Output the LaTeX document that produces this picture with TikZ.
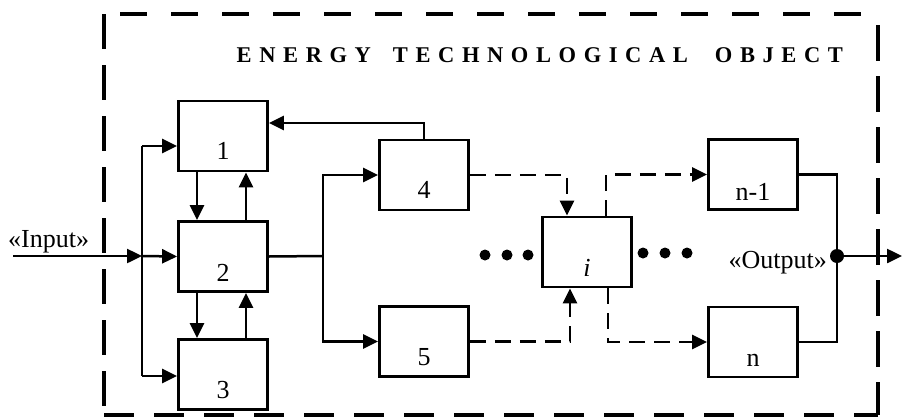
\documentclass[tikz,border=0pt]{standalone}
\usepackage{fontspec}
\setmainfont{Liberation Serif}
\usetikzlibrary{arrows.meta}
\newcommand\lk{\kern 7.6pt}
\begin{document}
\begin{tikzpicture}[x=1pt,y=-1pt,
  blk/.style={draw, line width=2.8pt, minimum width=89pt, minimum height=70pt, inner sep=0pt},
  lbl/.style={anchor=base, inner sep=0pt, font=\fontsize{26}{26}\selectfont},
  con/.style={line width=2.5pt},
  arr/.style={con, -{Triangle[length=15pt,width=14pt]}},
  dsh/.style={dash pattern=on 16pt off 9pt},
  frm/.style={line width=4pt},
  txt/.style={inner sep=0pt, font=\fontsize{26}{26}\selectfont}]
\useasboundingbox (0,0) rectangle (902,418);
% frame
\draw[frm, dash pattern=on 27pt off 24pt, dash phase=35pt] (104,14) -- (878,14);
\draw[frm, dash pattern=on 35pt off 16pt] (104,14) -- (104,415);
\draw[frm, dash pattern=on 36pt off 15pt, dash phase=40pt] (878,14) -- (878,415);
\draw[frm, dash pattern=on 30pt off 20pt] (104,415) -- (878,415);
% title
\node[anchor=base west, inner sep=0pt, font=\fontsize{22.5}{22.5}\selectfont\bfseries] (title) at (236.5,62)
  {E\lk N\lk E\lk R\lk G\lk Y\kern22pt T\lk E\lk C\lk H\lk N\lk O\lk L\lk O\lk G\lk I\lk C\lk A\lk L\kern27pt O\lk B\lk J\lk E\lk C\lk T};
% boxes
\node[blk] (n1) at (223,136) {};
\node[blk] (n2) at (223,256.5) {};
\node[blk] (n3) at (223,374.5) {};
\node[blk] (n4) at (424,175) {};
\node[blk] (n5) at (424,341.5) {};
\node[blk] (ni) at (587,252) {};
\node[blk] (nm) at (753,174.5) {};
\node[blk] (nn) at (753,342) {};
% labels
\node[lbl] (l1) at (223,159) {1};
\node[lbl] (l2) at (223,281) {2};
\node[lbl] (l3) at (223,398) {3};
\node[lbl] (l4) at (424,198) {4};
\node[lbl] (l5) at (424,365) {5};
\node[lbl] (li) at (587,276) {\itshape i};
\node[lbl] (lm) at (753,200) {n-1};
\node[lbl] (ln) at (753,366) {n};
% input
\node[txt, anchor=base west] (tin) at (8,247) {«Input»};
\coordinate (in) at (13,256);
\coordinate (bx) at (142,256);
\coordinate (b1) at (142,146);
\coordinate (b3) at (142,376);
\draw[arr] (in) -- (bx);
\draw[con] (b1) -- (b3);
\draw[arr] (b1) -- (b1 -| n1.west);
\draw[arr] (bx) -- (n2.west);
\draw[arr] (b3) -- (b3 -| n3.west);
% vertical links 1-2-3
\draw[arr] ([xshift=-26pt]n1.south) -- ([xshift=-26pt]n2.north);
\draw[arr] ([xshift=23pt]n2.north) -- ([xshift=23pt]n1.south);
\draw[arr] ([xshift=-26pt]n2.south) -- ([xshift=-26pt]n3.north);
\draw[arr] ([xshift=23pt]n3.north) -- ([xshift=23pt]n2.south);
% feedback 4 -> 1
\coordinate (fb) at (0,123);
\draw[arr] (n4.north) |- (n1.east |- fb);
% branch 2 -> 4,5
\coordinate (br) at (323,256);
\draw[con] (n2.east) -- (br);
\draw[arr] (br) |- (n4.west);
\draw[arr] (br) |- (n5.west);
% dashed to i
\draw[arr, dsh] (n4.east) -| ([xshift=-20pt]ni.north);
\draw[arr, dsh] (n5.east) -| ([xshift=-17pt]ni.south);
% dashed from i
\draw[arr, dsh] ([xshift=19pt]ni.north) |- (nm.west);
\draw[arr, dsh] ([xshift=21pt]ni.south) |- (nn.west);
% dots
\foreach \x in {485,507,528} \fill (\x,255) circle (5.5);
\foreach \x in {643,665,687} \fill (\x,253) circle (5.5);
% output
\coordinate (od) at (837,256);
\coordinate (oe) at (902,256);
\draw[con] (nm.east) -| (od) |- (nn.east);
\fill (od) circle (7);
\draw[arr] (od) -- (oe);
\node[txt, anchor=base east] (tout) at (827,268) {«Output»};
\end{tikzpicture}
\end{document}
